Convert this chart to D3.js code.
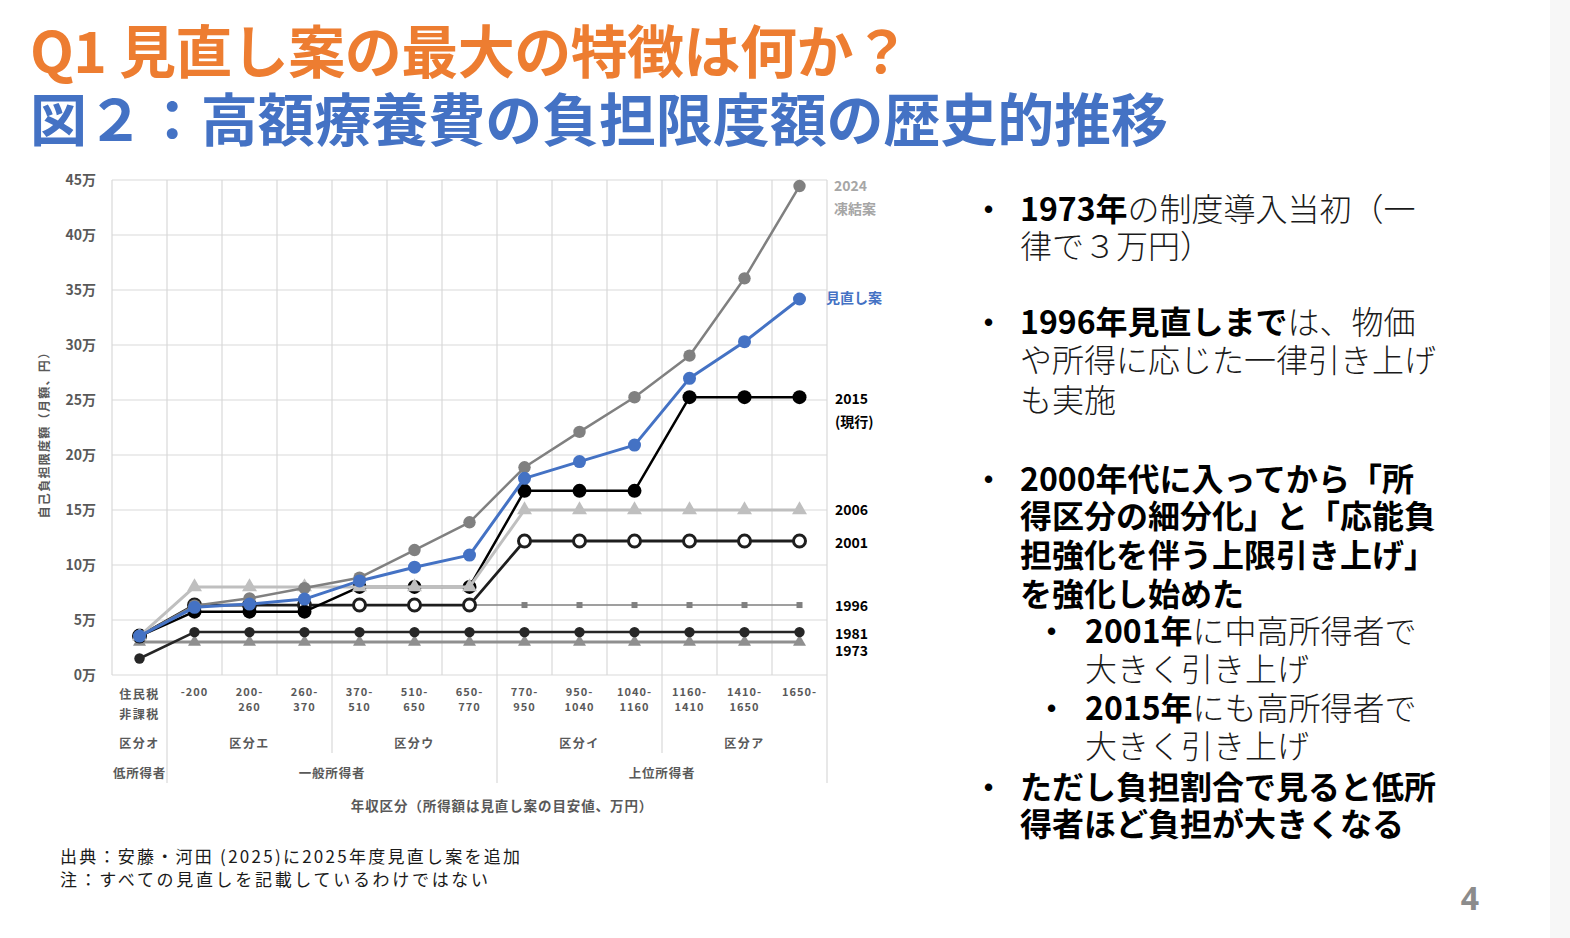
<!DOCTYPE html>
<html><head><meta charset="utf-8">
<script src="https://cdn.jsdelivr.net/npm/d3@7"></script>
<style>
body{margin:0;background:#fff;}
svg{display:block;font-family:"Noto Sans CJK JP","Noto Sans",sans-serif;}
</style></head><body>
<svg id="chart" width="1570" height="938"></svg>
<script>
// ---------------- data ----------------
const categories = ["住民税非課税","-200","200-260","260-370","370-510","510-650","650-770","770-950","950-1040","1040-1160","1160-1410","1410-1650","1650-"];
const categoryLabels = [["住民税","非課税"],["-200"],["200-","260"],["260-","370"],["370-","510"],["510-","650"],["650-","770"],["770-","950"],["950-","1040"],["1040-","1160"],["1160-","1410"],["1410-","1650"],["1650-"]];
const yTicks = [0,5,10,15,20,25,30,35,40,45];   // 万円
const yUnit = "万";

const v1973   = [3.0, 3.0, 3.0, 3.0, 3.0, 3.0, 3.0, 3.0, 3.0, 3.0, 3.0, 3.0, 3.0];
const v1981   = [1.5, 3.9, 3.9, 3.9, 3.9, 3.9, 3.9, 3.9, 3.9, 3.9, 3.9, 3.9, 3.9];
const v1996   = [3.54, 6.36, 6.36, 6.36, 6.36, 6.36, 6.36, 6.36, 6.36, 6.36, 6.36, 6.36, 6.36];
const v2001   = [3.54, 6.36, 6.36, 6.36, 6.36, 6.36, 6.36, 12.18, 12.18, 12.18, 12.18, 12.18, 12.18];
const v2015   = [3.54, 5.76, 5.76, 5.76, 8.01, 8.01, 8.01, 16.74, 16.74, 16.74, 25.26, 25.26, 25.26];
const v2006   = [3.54, 8.01, 8.01, 8.01, 8.01, 8.01, 8.01, 15.0, 15.0, 15.0, 15.0, 15.0, 15.0];
const v2024   = [3.54, 6.3, 6.97, 7.9, 8.85, 11.36, 13.88, 18.88, 22.1, 25.25, 29.03, 36.06, 44.45];
const vReview = [3.54, 6.15, 6.45, 6.9, 8.55, 9.8, 10.9, 17.88, 19.4, 20.9, 26.97, 30.3, 34.18];

const seriesNames = ["1973","1981","1996","2001","2015(現行)","2006","2024凍結案","見直し案"];

const kubunGroups = [
  {label:"区分オ", start:0, end:0},
  {label:"区分エ", start:1, end:3},
  {label:"区分ウ", start:4, end:6},
  {label:"区分イ", start:7, end:9},
  {label:"区分ア", start:10, end:12}
];
const incomeGroups = [
  {label:"低所得者", start:0, end:0},
  {label:"一般所得者", start:1, end:6},
  {label:"上位所得者", start:7, end:12}
];

const title1 = "Q1 見直し案の最大の特徴は何か？";
const title2 = "図２：高額療養費の負担限度額の歴史的推移";
const yTitle = "自己負担限度額（月額、円）";
const xTitle = "年収区分（所得額は見直し案の目安値、万円）";
const notes = ["出典：安藤・河田 (2025)に2025年度見直し案を追加","注：すべての見直しを記載しているわけではない"];

// right-hand bullet text: [level, [[bold?, text], ...]] per line
const bullets = [
  {level:0, lines:[[[1,"1973年"],[0,"の制度導入当初（一"]],[[0,"律で３万円）"]]]},
  {level:0, lines:[[[1,"1996年見直しまで"],[0,"は、物価"]],[[0,"や所得に応じた一律引き上げ"]],[[0,"も実施"]]]},
  {level:0, lines:[[[1,"2000年代に入ってから「所"]],[[1,"得区分の細分化」と「応能負"]],[[1,"担強化を伴う上限引き上げ」"]],[[1,"を強化し始めた"]]]},
  {level:1, lines:[[[1,"2001年"],[0,"に中高所得者で"]],[[0,"大きく引き上げ"]]]},
  {level:1, lines:[[[1,"2015年"],[0,"にも高所得者で"]],[[0,"大きく引き上げ"]]]},
  {level:0, lines:[[[1,"ただし負担割合で見ると低所"]],[[1,"得者ほど負担が大きくなる"]]]}
];
const pageNumber = "4";

// ---------------- styles ----------------
const styles = {
  "1973":      {values:v1973,   color:"#8f8f8f", width:3,   shape:"tri",  size:13},
  "1981":      {values:v1981,   color:"#262626", width:2.5, shape:"dot",  size:5.2},
  "1996":      {values:v1996,   color:"#808080", width:1.6, shape:"sq",   size:6},
  "2001":      {values:v2001,   color:"#1e1e1e", width:2.8, shape:"ring", size:6},
  "2015(現行)":{values:v2015,   color:"#000000", width:2.5, shape:"dot",  size:7},
  "2006":      {values:v2006,   color:"#bfbfbf", width:3,   shape:"tri",  size:15},
  "2024凍結案":{values:v2024,   color:"#808080", width:2.5, shape:"dot",  size:6.2},
  "見直し案":  {values:vReview, color:"#4472c4", width:3,   shape:"dot",  size:6.5}
};
const endLabels = [
  {series:"2024凍結案", lines:["2024","凍結案"], color:"#a6a6a6", dx:7, dy:-1},
  {series:"見直し案",   lines:["見直し案"],      color:"#4472c4", dx:-1, dy:-2},
  {series:"2015(現行)", lines:["2015","(現行)"], color:"#000", dx:8, dy:1},
  {series:"2006",       lines:["2006"], color:"#000", dx:8, dy:-1},
  {series:"2001",       lines:["2001"], color:"#000", dx:8, dy:1},
  {series:"1996",       lines:["1996"], color:"#000", dx:8, dy:0},
  {series:"1981",       lines:["1981"], color:"#000", dx:8, dy:1},
  {series:"1973",       lines:["1973"], color:"#000", dx:8, dy:8}
];

// ---------------- drawing ----------------
const svg = d3.select("#chart");
svg.append("rect").attr("x",1550).attr("y",0).attr("width",20).attr("height",938).attr("fill","#f7f7f7");

const P = {left:112, right:827, top:180, bottom:675};
const x = d3.scaleBand().domain(categories).range([P.left, P.right]).padding(0);
const cx = c => x(c) + x.bandwidth()/2;
const y = d3.scaleLinear().domain([0,45]).range([P.bottom, P.top]);
const boundary = i => i < categories.length ? x(categories[i]) : P.right;

// titles
svg.append("text").attr("x",30).attr("y",73).attr("font-size",57).attr("font-weight",700)
  .attr("fill","#ed7d31").attr("textLength",880).attr("lengthAdjust","spacing").text(title1);
svg.append("text").attr("x",30).attr("y",141).attr("font-size",57).attr("font-weight",700)
  .attr("fill","#4472c4").attr("textLength",1138).attr("lengthAdjust","spacing").text(title2);

// gridlines
const grid = svg.append("g").attr("stroke","#d9d9d9").attr("stroke-width",1.2);
grid.selectAll("line.h").data(yTicks).join("line").attr("class","h")
  .attr("x1",P.left).attr("x2",P.right).attr("y1",d=>y(d)).attr("y2",d=>y(d));
grid.selectAll("line.v").data(d3.range(categories.length+1)).join("line").attr("class","v")
  .attr("x1",i=>boundary(i)).attr("x2",i=>boundary(i)).attr("y1",P.top).attr("y2",P.bottom);

// table separators below axis
const sepIncome = new Set(incomeGroups.map(g=>g.end+1));
const sepKubun = new Set(kubunGroups.map(g=>g.end+1));
const seps = d3.range(1, categories.length+1).filter(i=>sepIncome.has(i)||sepKubun.has(i));
grid.selectAll("line.s").data(seps).join("line").attr("class","s")
  .attr("x1",i=>boundary(i)).attr("x2",i=>boundary(i)).attr("y1",P.bottom)
  .attr("y2",i=>sepIncome.has(i)?783:753);

// y axis labels
const yAxis = d3.axisLeft(y).tickValues(yTicks).tickSize(0).tickPadding(16).tickFormat(d=>d+yUnit);
const ya = svg.append("g").attr("transform",`translate(${P.left},0)`).call(yAxis);
ya.select(".domain").remove();
ya.selectAll("text").attr("font-size",14).attr("font-weight",700).attr("fill","#595959")
  .attr("font-family",'"Noto Sans CJK JP",sans-serif');

// y title
svg.append("text").attr("transform","translate(43,432) rotate(-90)").attr("text-anchor","middle")
  .attr("font-size",12).attr("font-weight",700).attr("fill","#595959").attr("letter-spacing",1.3)
  .attr("dominant-baseline","central").text(yTitle);

// category labels
const tbl = svg.append("g").attr("fill","#595959").attr("font-weight",700).attr("text-anchor","middle");
categories.forEach((c,i)=>{
  const lines = categoryLabels[i];
  const isJa = /[^\x00-\x7f]/.test(lines[0]);
  lines.forEach((t,j)=>{
    tbl.append("text").attr("x",cx(c)).attr("y", isJa ? 693 + j*20 : 691 + j*15)
      .attr("dominant-baseline","central").attr("font-size", isJa?12:11)
      .attr("letter-spacing", isJa?1.5:1).text(t);
  });
});
kubunGroups.forEach(g=>{
  const xc = (boundary(g.start)+boundary(g.end+1))/2;
  tbl.append("text").attr("x",xc).attr("y",742).attr("dominant-baseline","central")
    .attr("font-size",12).attr("letter-spacing",1.5).text(g.label);
});
incomeGroups.forEach(g=>{
  const xc = (boundary(g.start)+boundary(g.end+1))/2;
  tbl.append("text").attr("x",xc).attr("y",772).attr("dominant-baseline","central")
    .attr("font-size",12.5).attr("letter-spacing",0.8).text(g.label);
});
tbl.append("text").attr("x",502).attr("y",805).attr("dominant-baseline","central")
  .attr("font-size",13.5).attr("letter-spacing",0.9).text(xTitle);

// series
const line = d3.line().x((d,i)=>cx(categories[i])).y(d=>y(d));
const plot = svg.append("g");
seriesNames.forEach(name=>{
  const s = styles[name];
  const g = plot.append("g");
  g.append("path").datum(s.values).attr("d",line).attr("fill","none")
    .attr("stroke",s.color).attr("stroke-width",s.width).attr("stroke-linejoin","round");
  const pts = g.selectAll("g.pt").data(s.values).join("g").attr("class","pt")
    .attr("transform",(d,i)=>`translate(${cx(categories[i])},${y(d)})`);
  if (s.shape==="dot") pts.append("circle").attr("r",s.size).attr("fill",s.color);
  if (s.shape==="ring") pts.append("circle").attr("r",s.size).attr("fill","#fff").attr("stroke",s.color).attr("stroke-width",3);
  if (s.shape==="sq") pts.append("rect").attr("x",-s.size/2).attr("y",-s.size/2).attr("width",s.size).attr("height",s.size).attr("fill",s.color);
  if (s.shape==="tri") pts.append("path").attr("d",d3.symbol(d3.symbolTriangle, s.size*s.size*Math.sqrt(3)/4)()).attr("fill",s.color);
});

// end labels
endLabels.forEach(l=>{
  const vals = styles[l.series].values;
  const yy = y(vals[vals.length-1]) + l.dy;
  l.lines.forEach((t,j)=>{
    svg.append("text").attr("x",P.right+l.dx).attr("y",yy + j*23).attr("dominant-baseline","central")
      .attr("font-size",14).attr("font-weight",700).attr("fill",l.color).text(t);
  });
});

// notes
notes.forEach((t,i)=>{
  svg.append("text").attr("x",60).attr("y",863+i*23).attr("font-size",17).attr("fill","#1a1a1a")
    .attr("textLength", i===0?460:428).attr("lengthAdjust","spacing").text(t);
});

// right bullets
const rb = svg.append("g").attr("fill","#000").attr("font-size",32);
const lineBaselines = [[221,258],[334,372,412],[491,528,567,606],[643,681],[720,758],[799,836]];
bullets.forEach((b,bi)=>{
  const bx = b.level===0 ? 984 : 1047;
  const tx = b.level===0 ? 1020 : 1085;
  const base = lineBaselines[bi];
  rb.append("text").attr("x",bx).attr("y",base[0]-3).attr("font-size",26).attr("font-weight",700)
    .attr("font-family",'"Liberation Sans",Arial,sans-serif').text("•");
  b.lines.forEach((segs,li)=>{
    const t = rb.append("text").attr("x",tx).attr("y",base[li]);
    segs.forEach(([bold,str])=>{
      t.append("tspan").attr("font-weight",bold?700:300).attr("fill",bold?"#000":"#1a1a1a").text(str);
    });
  });
});

svg.append("text").attr("x",1470).attr("y",910).attr("text-anchor","middle").attr("font-size",32)
  .attr("font-weight",700).attr("fill","#8c8c8c").attr("font-family",'"Noto Sans",sans-serif').text(pageNumber);
</script>
</body></html>
